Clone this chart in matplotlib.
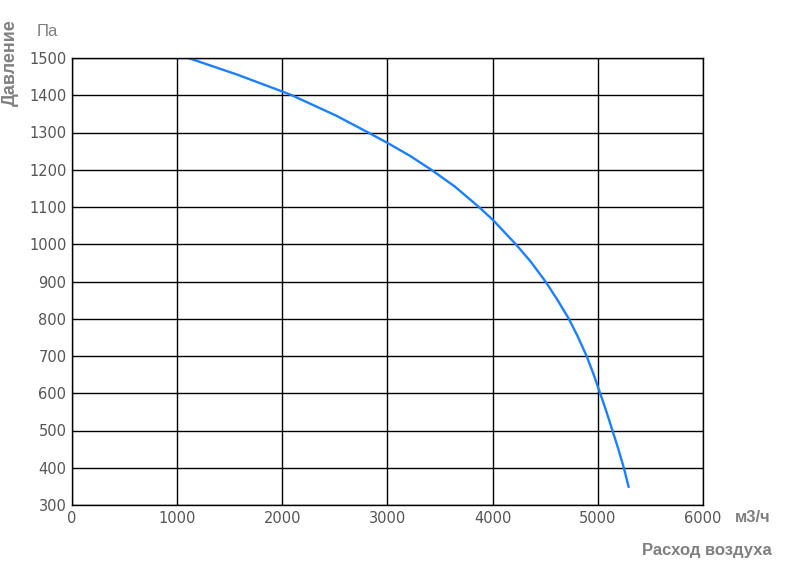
import matplotlib
matplotlib.use("Agg")
import matplotlib.pyplot as plt

# curve
flow = [1106, 1565, 2000, 2090, 2514, 2816, 3000, 3216, 3416, 3640, 3869, 4000, 4220, 4360,
        4502, 4613, 4724, 4808, 4893, 4958, 5022, 5080, 5139, 5193, 5247, 5295]
pressure = [1500, 1456, 1410, 1400, 1345, 1300, 1272, 1237, 1200, 1155, 1100, 1066, 1000, 954,
            900, 852, 800, 753, 700, 652, 600, 552, 500, 452, 400, 346]

xticks = [0, 1000, 2000, 3000, 4000, 5000, 6000]
yticks = [300, 400, 500, 600, 700, 800, 900, 1000, 1100, 1200, 1300, 1400, 1500]

W, H = 812, 587
fig = plt.figure(figsize=(W / 100, H / 100), dpi=100)
ax = fig.add_axes([72 / W, (H - 505) / H, 631 / W, 447 / H])

ax.plot(flow, pressure, color="#1a80ff", lw=1.7, solid_capstyle="butt", solid_joinstyle="round")
ax.set_xlim(0, 6000)
ax.set_ylim(300, 1500)
ax.set_xticks(xticks)
ax.set_yticks(yticks)
ax.grid(True, color="black", lw=1.0)
ax.set_axisbelow(True)
for s in ax.spines.values():
    s.set_color("black")
    s.set_linewidth(1.0)
ax.tick_params(length=0, pad=4, labelsize=10.5, colors="#555555")

lab = dict(family="Liberation Sans", color="#7f7f7f", fontsize=12)
fig.text(10 / W, 1 - 63 / H, "Давление", rotation=90, ha="center", va="center", fontweight="bold", fontsize=13,
         family="Liberation Sans", color="#7f7f7f")
fig.text(37 / W, 1 - 31 / H, "Па", ha="left", va="center", **lab)
fig.text(735 / W, 1 - 518 / H, "м3/ч", ha="left", va="center", fontweight="bold", **lab)
fig.text(772 / W, 1 - 551 / H, "Расход воздуха", ha="right", va="center", fontweight="bold", **lab)

fig.savefig("out.png", dpi=100)
